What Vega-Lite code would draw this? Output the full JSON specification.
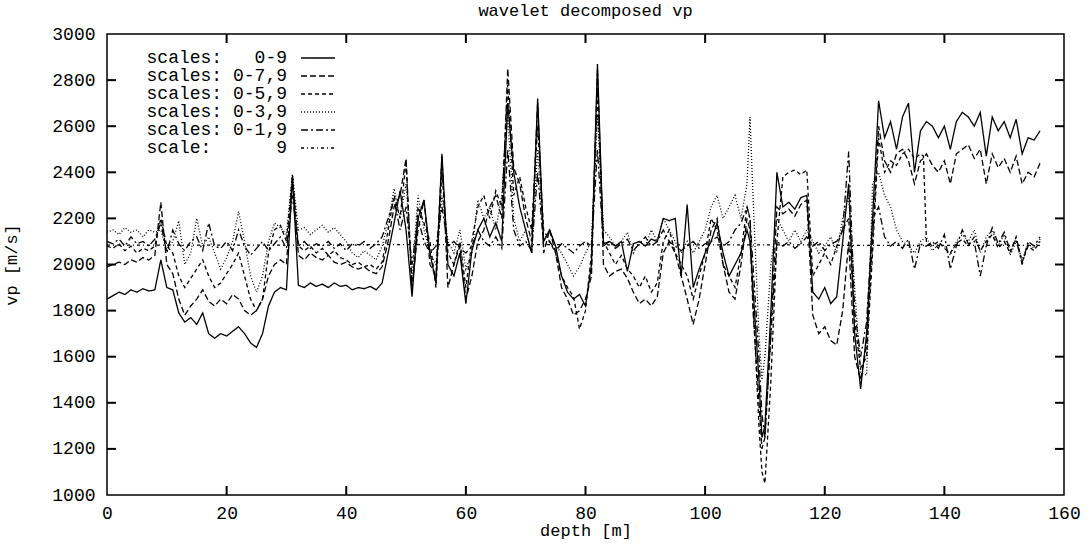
{
"$schema": "https://vega.github.io/schema/vega-lite/v6.json",
"width": 957, "height": 461,
"autosize": {"type": "none"},
"padding": {"left": 107, "top": 34, "right": 27, "bottom": 52},
"background": "white",
"title": {"text": "wavelet decomposed vp", "anchor": "middle", "offset": 5, "fontSize": 17, "font": "Liberation Mono", "fontWeight": "normal", "color": "black"},
"config": {
  "view": {"stroke": "black", "strokeWidth": 1.5},
  "font": "Liberation Mono",
  "axis": {"grid": false, "domain": false, "ticks": false, "labelFont": "Liberation Mono", "labelFontSize": 18, "labelColor": "black", "titleFont": "Liberation Mono", "titleFontSize": 17, "titleFontWeight": "normal", "titleColor": "black"}
},
"datasets": {
"main": [
{"d":0,"A":1850,"B":1990,"C":2080,"D":2140,"E":2100,"F":2084},
{"d":1,"A":1865,"B":2000,"C":2070,"D":2150,"E":2090,"F":2084},
{"d":2,"A":1880,"B":2010,"C":2090,"D":2130,"E":2110,"F":2084},
{"d":3,"A":1870,"B":2000,"C":2060,"D":2160,"E":2080,"F":2084},
{"d":4,"A":1890,"B":2020,"C":2080,"D":2140,"E":2120,"F":2084},
{"d":5,"A":1880,"B":2010,"C":2050,"D":2150,"E":2090,"F":2084},
{"d":6,"A":1895,"B":2030,"C":2070,"D":2120,"E":2100,"F":2084},
{"d":7,"A":1885,"B":2020,"C":2060,"D":2150,"E":2080,"F":2084},
{"d":8,"A":1890,"B":2040,"C":2080,"D":2140,"E":2110,"F":2084},
{"d":9,"A":2020,"B":2270,"C":2200,"D":2150,"E":2180,"F":2084},
{"d":10,"A":1900,"B":2000,"C":2080,"D":2060,"E":2050,"F":2084},
{"d":11,"A":1890,"B":1960,"C":2050,"D":2100,"E":2150,"F":2084},
{"d":12,"A":1790,"B":1850,"C":1950,"D":2190,"E":2090,"F":2084},
{"d":13,"A":1750,"B":1780,"C":1900,"D":2000,"E":2060,"F":2084},
{"d":14,"A":1770,"B":1820,"C":1940,"D":2050,"E":2100,"F":2084},
{"d":15,"A":1740,"B":1850,"C":1980,"D":2200,"E":2120,"F":2084},
{"d":16,"A":1790,"B":1890,"C":2020,"D":2080,"E":2060,"F":2084},
{"d":17,"A":1700,"B":1840,"C":1950,"D":2120,"E":2180,"F":2084},
{"d":18,"A":1680,"B":1820,"C":1900,"D":2050,"E":2080,"F":2084},
{"d":19,"A":1700,"B":1850,"C":1920,"D":1980,"E":2070,"F":2084},
{"d":20,"A":1690,"B":1830,"C":1960,"D":2030,"E":2100,"F":2084},
{"d":21,"A":1710,"B":1870,"C":2000,"D":2100,"E":2060,"F":2084},
{"d":22,"A":1730,"B":1850,"C":2050,"D":2230,"E":2150,"F":2084},
{"d":23,"A":1700,"B":1800,"C":1950,"D":2100,"E":2080,"F":2084},
{"d":24,"A":1660,"B":1780,"C":1850,"D":1950,"E":2040,"F":2084},
{"d":25,"A":1640,"B":1800,"C":1800,"D":1880,"E":2070,"F":2084},
{"d":26,"A":1700,"B":1850,"C":1850,"D":1950,"E":2100,"F":2084},
{"d":27,"A":1820,"B":1950,"C":2050,"D":2100,"E":2060,"F":2084},
{"d":28,"A":1880,"B":2000,"C":2150,"D":2180,"E":2090,"F":2084},
{"d":29,"A":1900,"B":2020,"C":2170,"D":2160,"E":2120,"F":2084},
{"d":30,"A":1890,"B":2000,"C":2100,"D":2130,"E":2070,"F":2084},
{"d":31,"A":2380,"B":2390,"C":2380,"D":2390,"E":2300,"F":2084},
{"d":32,"A":1910,"B":2040,"C":2080,"D":2150,"E":2080,"F":2084},
{"d":33,"A":1900,"B":2020,"C":2060,"D":2160,"E":2100,"F":2084},
{"d":34,"A":1920,"B":2050,"C":2080,"D":2130,"E":2070,"F":2084},
{"d":35,"A":1905,"B":2030,"C":2050,"D":2150,"E":2090,"F":2084},
{"d":36,"A":1915,"B":2020,"C":2070,"D":2170,"E":2080,"F":2084},
{"d":37,"A":1900,"B":2040,"C":2040,"D":2140,"E":2100,"F":2084},
{"d":38,"A":1920,"B":2010,"C":2060,"D":2160,"E":2070,"F":2084},
{"d":39,"A":1905,"B":2000,"C":2030,"D":2130,"E":2090,"F":2084},
{"d":40,"A":1910,"B":2010,"C":2020,"D":2100,"E":2060,"F":2084},
{"d":41,"A":1890,"B":1990,"C":2000,"D":2050,"E":2090,"F":2086},
{"d":42,"A":1900,"B":1980,"C":2010,"D":2030,"E":2080,"F":2086},
{"d":43,"A":1895,"B":1990,"C":1990,"D":2060,"E":2100,"F":2086},
{"d":44,"A":1905,"B":1970,"C":2000,"D":2040,"E":2070,"F":2086},
{"d":45,"A":1890,"B":1960,"C":1980,"D":2020,"E":2090,"F":2086},
{"d":46,"A":1920,"B":1990,"C":2010,"D":2080,"E":2120,"F":2086},
{"d":47,"A":2050,"B":2100,"C":2150,"D":2180,"E":2200,"F":2086},
{"d":48,"A":2180,"B":2250,"C":2300,"D":2330,"E":2280,"F":2086},
{"d":49,"A":2320,"B":2300,"C":2200,"D":2200,"E":2150,"F":2086},
{"d":50,"A":2150,"B":2460,"C":2450,"D":2350,"E":2250,"F":2086},
{"d":51,"A":1860,"B":1900,"C":1880,"D":1950,"E":2000,"F":2086},
{"d":52,"A":2200,"B":2150,"C":2250,"D":2300,"E":2200,"F":2086},
{"d":53,"A":2280,"B":2280,"C":2180,"D":2150,"E":2100,"F":2086},
{"d":54,"A":2050,"B":2000,"C":2100,"D":2050,"E":2050,"F":2086},
{"d":55,"A":1920,"B":1950,"C":1900,"D":2000,"E":2080,"F":2086},
{"d":56,"A":2480,"B":2470,"C":2400,"D":2300,"E":2250,"F":2086},
{"d":57,"A":2000,"B":1900,"C":2050,"D":2100,"E":2080,"F":2086},
{"d":58,"A":1950,"B":2000,"C":2000,"D":2050,"E":2100,"F":2086},
{"d":59,"A":2050,"B":2080,"C":2100,"D":2150,"E":2070,"F":2086},
{"d":60,"A":1830,"B":1850,"C":1900,"D":1980,"E":2050,"F":2086},
{"d":61,"A":2060,"B":1950,"C":2100,"D":2050,"E":2080,"F":2086},
{"d":62,"A":2150,"B":2100,"C":2250,"D":2280,"E":2150,"F":2086},
{"d":63,"A":2200,"B":2150,"C":2300,"D":2200,"E":2100,"F":2086},
{"d":64,"A":2120,"B":2250,"C":2200,"D":2250,"E":2080,"F":2086},
{"d":65,"A":2180,"B":2300,"C":2320,"D":2150,"E":2120,"F":2086},
{"d":66,"A":2100,"B":2200,"C":2250,"D":2300,"E":2070,"F":2086},
{"d":67,"A":2700,"B":2850,"C":2780,"D":2650,"E":2500,"F":2086},
{"d":68,"A":2400,"B":2420,"C":2300,"D":2200,"E":2150,"F":2086},
{"d":69,"A":2250,"B":2350,"C":2380,"D":2100,"E":2080,"F":2086},
{"d":70,"A":2150,"B":2200,"C":2250,"D":2150,"E":2100,"F":2086},
{"d":71,"A":2050,"B":2100,"C":2150,"D":2050,"E":2060,"F":2086},
{"d":72,"A":2720,"B":2700,"C":2600,"D":2500,"E":2400,"F":2086},
{"d":73,"A":2100,"B":2050,"C":2150,"D":2100,"E":2080,"F":2086},
{"d":74,"A":2150,"B":2150,"C":2100,"D":2150,"E":2100,"F":2086},
{"d":75,"A":2080,"B":2050,"C":2050,"D":2080,"E":2060,"F":2086},
{"d":76,"A":1950,"B":1900,"C":1950,"D":2050,"E":2090,"F":2086},
{"d":77,"A":1880,"B":1850,"C":1900,"D":2000,"E":2070,"F":2086},
{"d":78,"A":1850,"B":1780,"C":1860,"D":1950,"E":2050,"F":2086},
{"d":79,"A":1870,"B":1800,"C":1720,"D":1990,"E":2080,"F":2086},
{"d":80,"A":1820,"B":1850,"C":1800,"D":2050,"E":2100,"F":2086},
{"d":81,"A":2000,"B":1950,"C":2050,"D":2100,"E":2080,"F":2085},
{"d":82,"A":2870,"B":2850,"C":2750,"D":2650,"E":2500,"F":2085},
{"d":83,"A":2090,"B":2000,"C":2100,"D":2150,"E":2080,"F":2085},
{"d":84,"A":2100,"B":1950,"C":2050,"D":2120,"E":2100,"F":2085},
{"d":85,"A":2080,"B":1970,"C":2000,"D":2080,"E":2070,"F":2085},
{"d":86,"A":2100,"B":1980,"C":2040,"D":2100,"E":2090,"F":2085},
{"d":87,"A":1970,"B":1940,"C":1980,"D":2140,"E":2110,"F":2085},
{"d":88,"A":2090,"B":1880,"C":1950,"D":2050,"E":2060,"F":2085},
{"d":89,"A":2100,"B":1830,"C":1900,"D":2100,"E":2090,"F":2085},
{"d":90,"A":2080,"B":1850,"C":1950,"D":2080,"E":2120,"F":2085},
{"d":91,"A":2110,"B":1820,"C":1880,"D":2150,"E":2080,"F":2085},
{"d":92,"A":2100,"B":1860,"C":1920,"D":2100,"E":2100,"F":2085},
{"d":93,"A":2200,"B":2050,"C":2100,"D":2200,"E":2150,"F":2085},
{"d":94,"A":2190,"B":2100,"C":2150,"D":2150,"E":2100,"F":2085},
{"d":95,"A":2200,"B":2050,"C":2050,"D":2100,"E":2080,"F":2085},
{"d":96,"A":1950,"B":1950,"C":2000,"D":2050,"E":2060,"F":2085},
{"d":97,"A":2260,"B":1850,"C":1950,"D":2100,"E":2080,"F":2085},
{"d":98,"A":1900,"B":1740,"C":1850,"D":2050,"E":2100,"F":2085},
{"d":99,"A":1980,"B":1850,"C":1950,"D":2100,"E":2070,"F":2085},
{"d":100,"A":2050,"B":2000,"C":2050,"D":2150,"E":2090,"F":2085},
{"d":101,"A":2100,"B":2150,"C":2200,"D":2250,"E":2100,"F":2085},
{"d":102,"A":2180,"B":2200,"C":2150,"D":2300,"E":2120,"F":2085},
{"d":103,"A":2050,"B":2000,"C":2000,"D":2200,"E":2080,"F":2085},
{"d":104,"A":1950,"B":1880,"C":1950,"D":2250,"E":2100,"F":2085},
{"d":105,"A":2000,"B":1850,"C":1900,"D":2300,"E":2150,"F":2085},
{"d":106,"A":2050,"B":2000,"C":2050,"D":2200,"E":2180,"F":2085},
{"d":107,"A":2150,"B":2200,"C":2250,"D":2350,"E":2250,"F":2085},
{"d":107.5,"A":2100,"B":2150,"C":2200,"D":2640,"E":2200,"F":2085},
{"d":108,"A":1900,"B":1800,"C":1850,"D":2300,"E":2000,"F":2085},
{"d":109,"A":1500,"B":1400,"C":1300,"D":1700,"E":1600,"F":2085},
{"d":109.5,"A":1250,"B":1200,"C":1100,"D":1500,"E":1350,"F":2085},
{"d":110,"A":1300,"B":1250,"C":1050,"D":1600,"E":1250,"F":2085},
{"d":111,"A":1800,"B":1700,"C":1500,"D":2000,"E":1700,"F":2085},
{"d":112,"A":2400,"B":2250,"C":2100,"D":2200,"E":2100,"F":2085},
{"d":113,"A":2250,"B":2220,"C":2380,"D":2150,"E":2080,"F":2085},
{"d":114,"A":2270,"B":2240,"C":2400,"D":2100,"E":2100,"F":2085},
{"d":115,"A":2240,"B":2210,"C":2410,"D":2150,"E":2070,"F":2085},
{"d":116,"A":2290,"B":2260,"C":2390,"D":2100,"E":2090,"F":2085},
{"d":117,"A":2300,"B":2280,"C":2410,"D":2150,"E":2120,"F":2085},
{"d":118,"A":1880,"B":1780,"C":1950,"D":2100,"E":2080,"F":2085},
{"d":119,"A":1850,"B":1700,"C":2000,"D":2050,"E":2100,"F":2085},
{"d":120,"A":1900,"B":1730,"C":2050,"D":2080,"E":2060,"F":2085},
{"d":121,"A":1830,"B":1670,"C":2000,"D":2120,"E":2090,"F":2083},
{"d":122,"A":1860,"B":1650,"C":2080,"D":2050,"E":2100,"F":2083},
{"d":123,"A":2100,"B":1800,"C":2150,"D":2200,"E":2150,"F":2083},
{"d":124,"A":2350,"B":2100,"C":2200,"D":2300,"E":2490,"F":2083},
{"d":125,"A":1700,"B":1600,"C":1750,"D":1900,"E":1800,"F":2083},
{"d":126,"A":1460,"B":1500,"C":1550,"D":1530,"E":1600,"F":2083},
{"d":127,"A":1700,"B":1650,"C":1600,"D":1520,"E":1750,"F":2083},
{"d":128,"A":2200,"B":2100,"C":2050,"D":2350,"E":2200,"F":2083},
{"d":129,"A":2710,"B":2600,"C":2550,"D":2400,"E":2250,"F":2083},
{"d":130,"A":2550,"B":2450,"C":2400,"D":2300,"E":2120,"F":2083},
{"d":131,"A":2620,"B":2400,"C":2450,"D":2250,"E":2080,"F":2083},
{"d":132,"A":2500,"B":2480,"C":2430,"D":2150,"E":2100,"F":2083},
{"d":133,"A":2640,"B":2500,"C":2480,"D":2100,"E":2070,"F":2083},
{"d":134,"A":2700,"B":2450,"C":2500,"D":2080,"E":2110,"F":2083},
{"d":135,"A":2400,"B":2350,"C":2460,"D":2050,"E":1980,"F":2083},
{"d":136,"A":2580,"B":2450,"C":2480,"D":2100,"E":2090,"F":2083},
{"d":136.5,"A":2600,"B":2460,"C":2470,"D":2110,"E":2080,"F":2083},
{"d":137,"A":2620,"B":2480,"C":2100,"D":2120,"E":2080,"F":2083},
{"d":138,"A":2600,"B":2430,"C":2080,"D":2060,"E":2100,"F":2083},
{"d":139,"A":2550,"B":2400,"C":2100,"D":2090,"E":2070,"F":2083},
{"d":140,"A":2600,"B":2450,"C":2070,"D":2080,"E":2130,"F":2083},
{"d":141,"A":2500,"B":2350,"C":2050,"D":2040,"E":1980,"F":2083},
{"d":142,"A":2620,"B":2480,"C":2090,"D":2100,"E":2080,"F":2083},
{"d":143,"A":2660,"B":2500,"C":2110,"D":2130,"E":2150,"F":2083},
{"d":144,"A":2640,"B":2520,"C":2080,"D":2100,"E":2090,"F":2083},
{"d":145,"A":2600,"B":2460,"C":2120,"D":2150,"E":2100,"F":2083},
{"d":146,"A":2660,"B":2500,"C":2060,"D":2050,"E":1950,"F":2083},
{"d":147,"A":2470,"B":2350,"C":2100,"D":2120,"E":2080,"F":2083},
{"d":148,"A":2640,"B":2480,"C":2130,"D":2150,"E":2160,"F":2083},
{"d":149,"A":2580,"B":2420,"C":2070,"D":2080,"E":2090,"F":2083},
{"d":150,"A":2620,"B":2460,"C":2100,"D":2130,"E":2140,"F":2083},
{"d":151,"A":2550,"B":2400,"C":2050,"D":2040,"E":2060,"F":2083},
{"d":152,"A":2630,"B":2470,"C":2120,"D":2100,"E":2110,"F":2083},
{"d":153,"A":2480,"B":2350,"C":2010,"D":2020,"E":2000,"F":2083},
{"d":154,"A":2550,"B":2400,"C":2080,"D":2090,"E":2100,"F":2083},
{"d":155,"A":2540,"B":2380,"C":2060,"D":2070,"E":2080,"F":2083},
{"d":156,"A":2580,"B":2440,"C":2100,"D":2110,"E":2120,"F":2083}
],
"xt": [{"d":20},{"d":40},{"d":60},{"d":80},{"d":100},{"d":120},{"d":140}],
"yt": [{"vp":1200},{"vp":1400},{"vp":1600},{"vp":1800},{"vp":2000},{"vp":2200},{"vp":2400},{"vp":2600},{"vp":2800}]
},
"layer": [
{
  "data": {"name": "main"},
  "transform": [{"fold": ["A","B","C","D","E","F"], "as": ["k","vp"]}],
  "mark": {"type": "line", "color": "black", "strokeWidth": 1.3, "clip": true},
  "encoding": {
    "x": {"field": "d", "type": "quantitative", "scale": {"domain": [0,160], "nice": false, "zero": false},
          "axis": {"orient": "bottom", "values": [0,20,40,60,80,100,120,140,160], "format": "d", "title": "depth [m]", "labelPadding": 9, "titlePadding": 0, "labelFlush": false, "ticks": false}},
    "y": {"field": "vp", "type": "quantitative", "scale": {"domain": [1000,3000], "nice": false, "zero": false},
          "axis": {"orient": "left", "values": [1000,1200,1400,1600,1800,2000,2200,2400,2600,2800,3000], "format": "d", "title": "vp [m/s]", "labelPadding": 12, "titlePadding": 31, "labelFlush": false, "ticks": false}},
    "strokeDash": {"field": "k", "type": "nominal",
      "scale": {"domain": ["A","B","C","D","E","F"], "range": [[1,0],[6,3],[4,3],[1,2],[7,3,2,3],[3,3,1,3]]},
      "legend": {"title": null, "orient": "none", "legendX": 202, "legendY": 15, "padding": 0,
        "labelAlign": "right", "labelOffset": -40, "symbolType": "M-3,0H3", "symbolSize": 128, "symbolStrokeWidth": 1.3, "symbolStrokeColor": "black", "symbolFillColor": "transparent", "symbolOpacity": 1,
        "labelFont": "Liberation Mono", "labelFontSize": 18, "labelColor": "black", "rowPadding": 0,
        "labelExpr": "datum.label == 'A' ? 'scales:\u00a0\u00a0\u00a00-9' : datum.label == 'B' ? 'scales:\u00a00-7,9' : datum.label == 'C' ? 'scales:\u00a00-5,9' : datum.label == 'D' ? 'scales:\u00a00-3,9' : datum.label == 'E' ? 'scales:\u00a00-1,9' : 'scale:\u00a0\u00a0\u00a0\u00a0\u00a0\u00a09'"}}
  }
},
{
  "data": {"name": "xt"},
  "mark": {"type": "rule", "color": "black", "strokeWidth": 2},
  "encoding": {"x": {"field": "d", "type": "quantitative"}, "y": {"datum": 1000}, "y2": {"datum": 1039}}
},
{
  "data": {"name": "xt"},
  "mark": {"type": "rule", "color": "black", "strokeWidth": 2},
  "encoding": {"x": {"field": "d", "type": "quantitative"}, "y": {"datum": 3000}, "y2": {"datum": 2961}}
},
{
  "data": {"name": "yt"},
  "mark": {"type": "rule", "color": "black", "strokeWidth": 2},
  "encoding": {"y": {"field": "vp", "type": "quantitative"}, "x": {"datum": 0}, "x2": {"datum": 1.5}}
},
{
  "data": {"name": "yt"},
  "mark": {"type": "rule", "color": "black", "strokeWidth": 2},
  "encoding": {"y": {"field": "vp", "type": "quantitative"}, "x": {"datum": 160}, "x2": {"datum": 158.5}}
}
]
}
